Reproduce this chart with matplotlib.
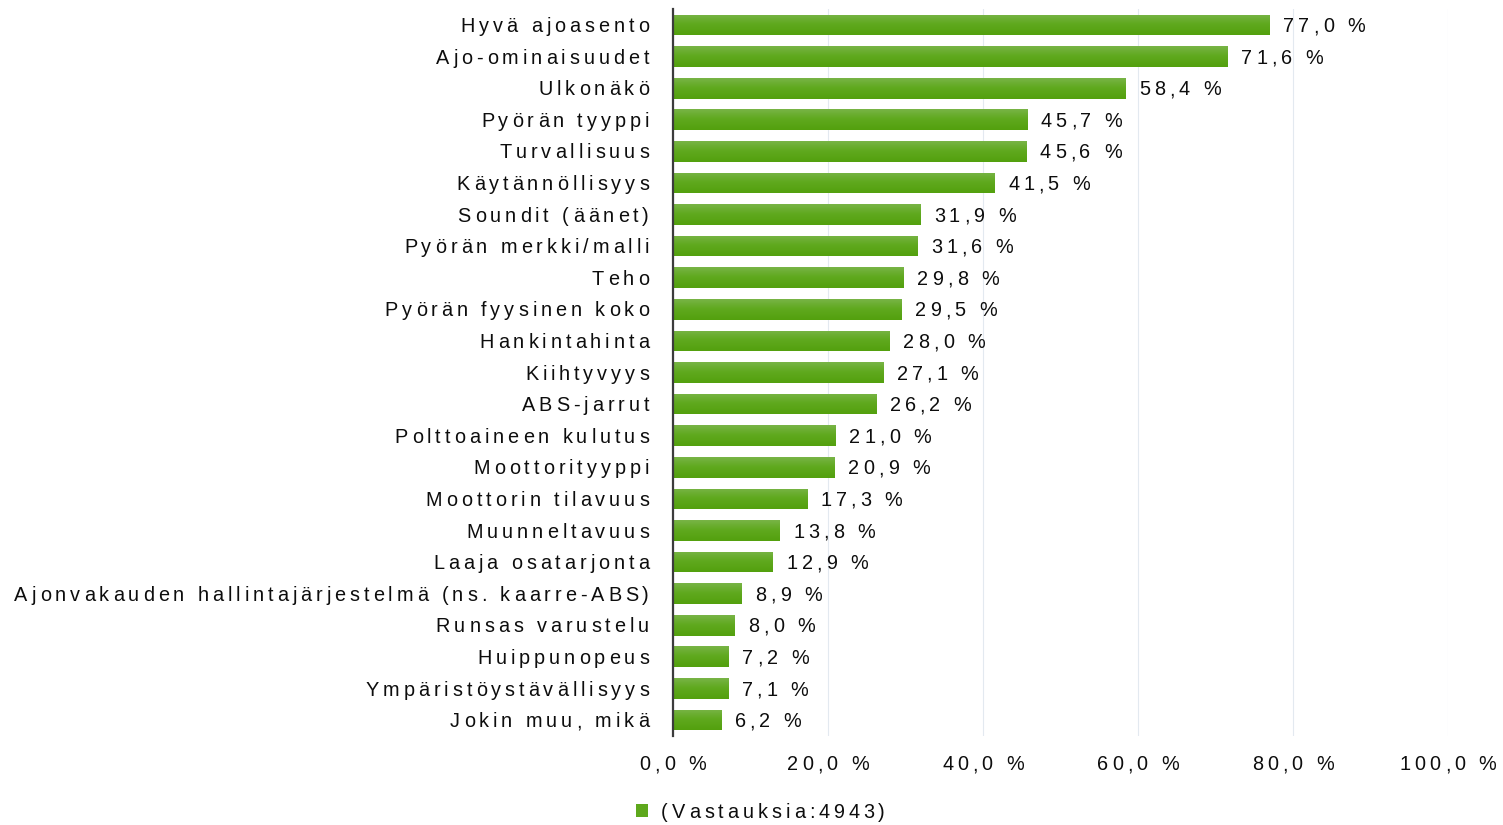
import matplotlib
matplotlib.use("Agg")
import matplotlib.pyplot as plt
import numpy as np
from matplotlib.colors import LinearSegmentedColormap
from matplotlib.patches import Patch
from matplotlib.text import Text
from matplotlib.transforms import ScaledTranslation, Bbox
from matplotlib.font_manager import findfont, get_font
try:
    from matplotlib.ft2font import LoadFlags
    NOHINT = LoadFlags.NO_HINTING
except Exception:
    NOHINT = 2

categories = [
    "Hyvä ajoasento", "Ajo-ominaisuudet", "Ulkonäkö", "Pyörän tyyppi",
    "Turvallisuus", "Käytännöllisyys", "Soundit (äänet)", "Pyörän merkki/malli",
    "Teho", "Pyörän fyysinen koko", "Hankintahinta", "Kiihtyvyys",
    "ABS-jarrut", "Polttoaineen kulutus", "Moottorityyppi", "Moottorin tilavuus",
    "Muunneltavuus", "Laaja osatarjonta",
    "Ajonvakauden hallintajärjestelmä (ns. kaarre-ABS)", "Runsas varustelu",
    "Huippunopeus", "Ympäristöystävällisyys", "Jokin muu, mikä",
]
values = [77.0, 71.6, 58.4, 45.7, 45.6, 41.5, 31.9, 31.6, 29.8, 29.5, 28.0,
          27.1, 26.2, 21.0, 20.9, 17.3, 13.8, 12.9, 8.9, 8.0, 7.2, 7.1, 6.2]
xticks = [0, 20, 40, 60, 80, 100]
legend_label = "(Vastauksia:4943)"

plt.rcParams['font.family'] = ['Liberation Sans', 'DejaVu Sans']
FS = 14.3
TXT = '#0d0d0d'
TRACK = 0.20  # letter spacing in em


class TrackedText(Text):
    """Text drawn with extra letter spacing (tracking)."""
    _tracking = TRACK

    def _advances(self, renderer):
        prop = self.get_fontproperties()
        font = get_font(findfont(prop))
        font.set_size(prop.get_size_in_points(), renderer.dpi)
        advs = []
        for c in self.get_text():
            g = font.load_char(ord(c), flags=NOHINT)
            advs.append(g.linearHoriAdvance / 65536)
        size_px = renderer.points_to_pixels(prop.get_size_in_points())
        return advs, size_px

    def _layout_px(self, renderer):
        advs, size_px = self._advances(renderer)
        track = self._tracking * size_px
        total = sum(advs) + track * max(len(advs) - 1, 0)
        x, y = self.get_transform().transform(self.get_unitless_position())
        ha = self.get_horizontalalignment()
        va = self.get_verticalalignment()
        if ha == 'right':
            x0 = x - total
        elif ha == 'center':
            x0 = x - total / 2
        else:
            x0 = x
        cap = 0.716 * size_px
        if va in ('center', 'center_baseline'):
            base = y - cap / 2
        elif va == 'top':
            base = y - cap
        elif va == 'bottom':
            base = y + 0.21 * size_px
        else:
            base = y
        return advs, track, x0, base, total, size_px

    def get_window_extent(self, renderer=None, dpi=None):
        try:
            if renderer is None:
                renderer = self.figure.canvas.get_renderer()
            advs, track, x0, base, total, size_px = self._layout_px(renderer)
            return Bbox([[x0, base - 0.21 * size_px], [x0 + total, base + 0.9 * size_px]])
        except Exception:
            return super().get_window_extent(renderer, dpi)

    def draw(self, renderer):
        if not self.get_visible() or self.get_text() == '':
            return
        renderer.open_group('text', self.get_gid())
        advs, track, x0, base, total, size_px = self._layout_px(renderer)
        gc = renderer.new_gc()
        gc.set_foreground(self.get_color())
        gc.set_alpha(self.get_alpha())
        gc.set_url(self._url)
        self._set_gc_clip(gc)
        h = renderer.get_canvas_width_height()[1]
        prop = self.get_fontproperties()
        xc = x0
        for c, a in zip(self.get_text(), advs):
            if not c.isspace():
                yy = h - base if renderer.flipy() else base
                renderer.draw_text(gc, xc, yy, c, prop, 0, ismath=False, mtext=None)
            xc += a + track
        gc.restore()
        renderer.close_group('text')
        self.stale = False


fig = plt.figure(figsize=(15.03, 8.25), dpi=100)
ax = fig.add_axes([673 / 1503, (825 - 735.8) / 825, 775 / 1503, 726.6 / 825])

ypos = np.arange(len(categories))
bar_h = 0.655
green_mid = '#5ea81c'
bars = ax.barh(ypos, values, height=bar_h, color=green_mid, zorder=2)

cmap = LinearSegmentedColormap.from_list(
    'g', [(0.0, '#78b446'), (0.45, '#60a91f'), (1.0, '#53a00e')])
grad = np.linspace(0, 1, 64).reshape(-1, 1)
for rect in bars:
    x0 = rect.get_x(); w = rect.get_width()
    y0 = rect.get_y(); h = rect.get_height()
    im = ax.imshow(grad, cmap=cmap, aspect='auto', origin='upper',
                   extent=(x0, x0 + w, y0 + h, y0), zorder=3,
                   interpolation='bilinear')
    im.set_clip_path(rect)

offset = ax.transData + ScaledTranslation(13.5 / 100, 0, fig.dpi_scale_trans)
for y, v in zip(ypos, values):
    t = TrackedText(v, y, f"{v:.1f} %".replace('.', ','), transform=offset,
                    va='center', ha='left', fontsize=FS, color=TXT, zorder=4)
    ax.add_artist(t)
    t.set_clip_on(False)

ax.set_xlim(0, 100)
ax.set_ylim(len(categories) - 0.5, -0.5)
ax.set_xticks(xticks)
ax.set_xticklabels([f"{t:.1f} %".replace('.', ',') for t in xticks])
ax.set_yticks(ypos)
ax.set_yticklabels(categories)
ax.tick_params(axis='both', length=0, labelsize=FS, colors=TXT)
ax.tick_params(axis='y', pad=24 / 1.389)
ax.tick_params(axis='x', pad=20 / 1.389)
for lab in ax.get_xticklabels() + ax.get_yticklabels():
    lab.__class__ = TrackedText

ax.grid(axis='x', color='#e3e9f0', linewidth=0.8, zorder=0)
ax.set_axisbelow(True)
for s in ['top', 'right', 'bottom']:
    ax.spines[s].set_visible(False)
ax.spines['left'].set_color('#3c3c3c')
ax.spines['left'].set_linewidth(1.6)
ax.spines['left'].set_zorder(5)

handle = Patch(facecolor=green_mid, edgecolor='none')
leg = fig.legend([handle], [legend_label], loc='center left',
                 bbox_to_anchor=(626 / 1503, 1 - 812 / 825),
                 frameon=False, fontsize=FS, handlelength=0.62, handleheight=0.62,
                 handletextpad=0.65, borderpad=0, labelcolor=TXT)
for t in leg.get_texts():
    t.__class__ = TrackedText

fig.savefig('out.png', dpi=100)
